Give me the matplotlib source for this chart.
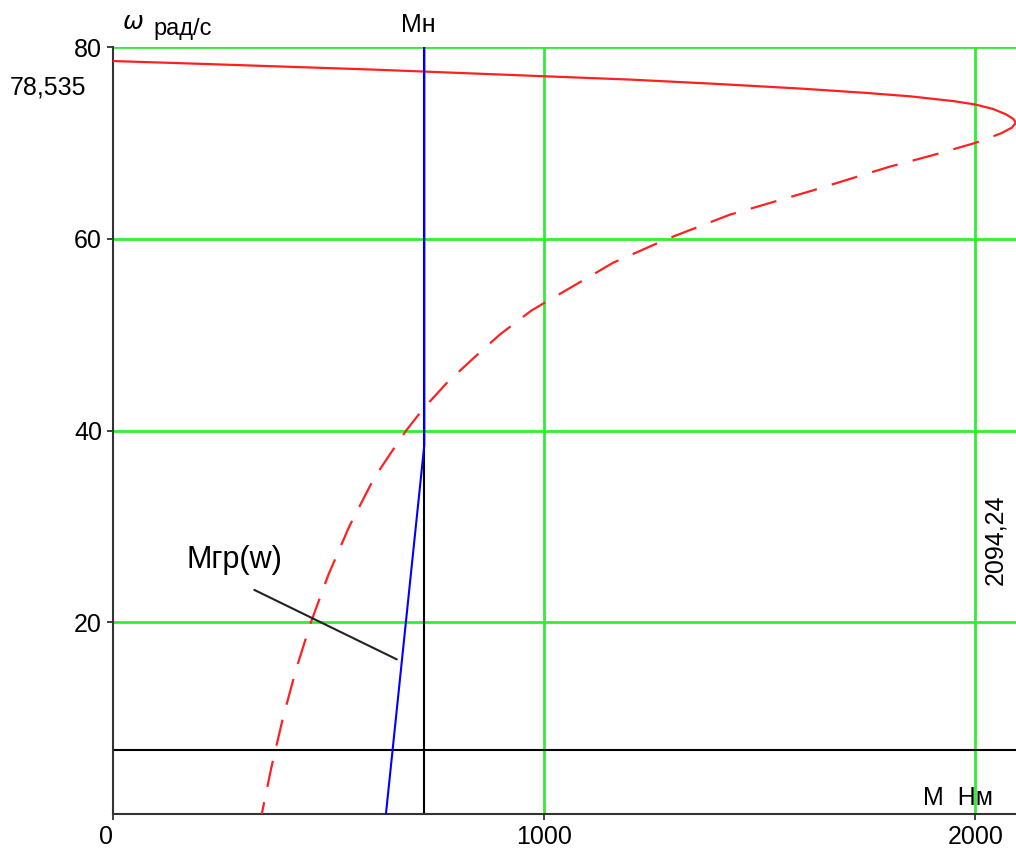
import matplotlib
matplotlib.use('Agg')
import matplotlib.pyplot as plt
import numpy as np

plt.rcParams['font.family'] = ['Liberation Sans', 'DejaVu Sans']

# upper (stable) branch of the mechanical characteristic, M [Нм] vs w [рад/с]
m_upper = [0, 200, 400, 600, 800, 1000, 1200, 1400, 1600, 1750, 1850, 1950, 2000, 2040, 2070, 2088, 2094]
w_upper = [78.535, 78.25, 77.95, 77.65, 77.3, 76.95, 76.6, 76.15, 75.65, 75.2, 74.85, 74.35, 74.0, 73.55, 73.0, 72.5, 72.1]
# lower (unstable) branch, dashed
m_lower = [2094, 2085, 2060, 2000, 1900, 1800, 1620, 1430, 1286, 1160, 1065, 1000, 970,
           897, 835, 775, 720, 680, 642, 605, 548, 500, 459, 424, 394, 368, 345]
w_lower = [72.1, 71.6, 71.0, 70.0, 68.7, 67.5, 65.0, 62.5, 60.0, 57.5, 55.0, 53.3, 52.5,
           50.0, 47.5, 45.0, 42.3, 40.0, 37.5, 35.0, 30.0, 25.0, 20.0, 15.0, 10.0, 5.0, 0.0]
# Mгр(w) blue line
m_gr = [722, 722, 633]
w_gr = [80, 38.5, 0]

M_nom = 722
M_max = 2094.24
w0 = 78.535
w_marker = 6.7

fig = plt.figure(figsize=(10.16, 8.52), dpi=100)
ax = fig.add_axes([113/1016, 38/852, 903/1016, 767/852])
ax.set_xlim(0, M_max)
ax.set_ylim(0, 80)

green = '#33ee33'
for gx in [1000, 2000]:
    ax.axvline(gx, color=green, lw=2, zorder=1)
for gy in [20, 40, 60, 80]:
    ax.axhline(gy, color=green, lw=2, zorder=1)

ax.axvline(M_nom, color='black', lw=1.5, zorder=2)
ax.axhline(w_marker, color='black', lw=1.5, zorder=2)

ax.plot(m_upper, w_upper, color='#ff2020', lw=1.6, zorder=3)
ax.plot(m_lower, w_lower, color='#ff2020', lw=1.6, dashes=(12, 7), zorder=3)
ax.plot(m_gr, w_gr, color='#0000ff', lw=1.5, zorder=4)

for s in ['top', 'right']:
    ax.spines[s].set_visible(False)
ax.spines['left'].set_color('#333333')
ax.spines['bottom'].set_color('#333333')
ax.spines['left'].set_linewidth(1.5)
ax.spines['bottom'].set_linewidth(1.5)
ax.spines['left'].set_bounds(0, 80)

ax.set_xticks([0, 1000, 2000])
ax.set_xticklabels(['0', '1000', '2000'])
ax.set_yticks([20, 40, 60, 80])
ax.tick_params(axis='both', labelsize=18, length=4, width=1.2, colors='#222222', labelcolor='black')
ax.tick_params(axis='x', pad=4)
ax.tick_params(axis='y', pad=4)
ax.get_xticklabels()[0].set_horizontalalignment('right')

# annotations
fig.text(48/1016, 1 - 88/852, '78,535', fontsize=18, ha='center', va='center')
fig.text(122/1016, 1 - 22/852, r'$\omega$', fontsize=18, ha='left', va='center')
fig.text(153/1016, 1 - 29/852, 'рад/с', fontsize=17, ha='left', va='center')
fig.text(418/1016, 1 - 25/852, 'Mн', fontsize=18, ha='center', va='center')
fig.text(958/1016, 1 - 798/852, 'M  Нм', fontsize=18, ha='center', va='center')
fig.text(995/1016, 1 - 540/852, '2094,24', fontsize=18, ha='center', va='center', rotation=90)
fig.text(234/1016, 1 - 560/852, 'Mгр(w)', fontsize=22, ha='center', va='center')
ax.annotate('', xy=(664, 16.0), xytext=(322, 23.5),
            arrowprops=dict(arrowstyle='-', color='#222222', lw=1.5))

fig.savefig('out.png', dpi=100)
